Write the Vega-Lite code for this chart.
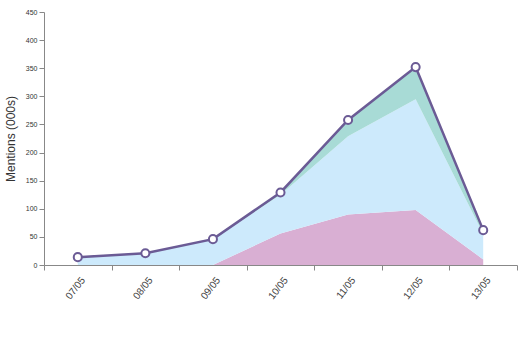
{
  "$schema": "https://vega.github.io/schema/vega-lite/v6.json",
  "width": 473,
  "height": 253,
  "autosize": "none",
  "padding": {"left": 44, "top": 12, "right": 2, "bottom": 91},
  "config": {
    "font": "Liberation Sans", "view": {"stroke": null},
    "axisY": {
      "titleFontSize": 12, "titleFontWeight": "normal", "titleColor": "#333", "titlePadding": 8,
      "values": [0, 50, 100, 150, 200, 250, 300, 350, 400, 450],
      "labelOverlap": false, "labelFontSize": 7, "labelColor": "#333", "grid": false,
      "domainColor": "#888", "tickColor": "#888", "tickSize": 5
    }
  },
  "data": {"values": [
    {"date": "07/05", "series": "Pink", "ord": 1, "value": 0},
    {"date": "08/05", "series": "Pink", "ord": 1, "value": 0},
    {"date": "09/05", "series": "Pink", "ord": 1, "value": 0},
    {"date": "10/05", "series": "Pink", "ord": 1, "value": 56},
    {"date": "11/05", "series": "Pink", "ord": 1, "value": 90},
    {"date": "12/05", "series": "Pink", "ord": 1, "value": 98},
    {"date": "13/05", "series": "Pink", "ord": 1, "value": 10},
    {"date": "07/05", "series": "Blue", "ord": 2, "value": 14},
    {"date": "08/05", "series": "Blue", "ord": 2, "value": 21},
    {"date": "09/05", "series": "Blue", "ord": 2, "value": 46},
    {"date": "10/05", "series": "Blue", "ord": 2, "value": 69},
    {"date": "11/05", "series": "Blue", "ord": 2, "value": 139},
    {"date": "12/05", "series": "Blue", "ord": 2, "value": 197},
    {"date": "13/05", "series": "Blue", "ord": 2, "value": 45},
    {"date": "07/05", "series": "Teal", "ord": 3, "value": 0},
    {"date": "08/05", "series": "Teal", "ord": 3, "value": 0},
    {"date": "09/05", "series": "Teal", "ord": 3, "value": 0},
    {"date": "10/05", "series": "Teal", "ord": 3, "value": 4},
    {"date": "11/05", "series": "Teal", "ord": 3, "value": 29},
    {"date": "12/05", "series": "Teal", "ord": 3, "value": 57},
    {"date": "13/05", "series": "Teal", "ord": 3, "value": 7}
  ]},
  "encoding": {
    "x": {
      "field": "date", "type": "ordinal", "bandPosition": 0.5,
      "scale": {"type": "band", "paddingInner": 0, "paddingOuter": 0},
      "axis": {
        "title": null, "labelAngle": -52, "labelFontSize": 10, "labelColor": "#444",
        "tickBand": "extent", "domainColor": "#888", "tickColor": "#888", "tickSize": 5,
        "labelPadding": 8, "labelOffset": 5
      }
    }
  },
  "layer": [
    {
      "mark": {"type": "area", "opacity": 1},
      "encoding": {
        "y": {
          "field": "value", "type": "quantitative", "stack": "zero",
          "scale": {"domain": [0, 450], "nice": false},
          "axis": {"title": "Mentions (000s)", "values": [0, 50, 100, 150, 200, 250, 300, 350, 400, 450]}
        },
        "color": {
          "field": "series", "type": "nominal", "legend": null,
          "scale": {"domain": ["Pink", "Blue", "Teal"], "range": ["#d9afd3", "#cdeafc", "#a8dbd6"]}
        },
        "order": {"field": "ord", "type": "quantitative"}
      }
    },
    {
      "mark": {"type": "line", "color": "#6b5b95", "strokeWidth": 2.5},
      "encoding": {"y": {"aggregate": "sum", "field": "value", "type": "quantitative",
        "axis": {"title": "Mentions (000s)", "values": [0, 50, 100, 150, 200, 250, 300, 350, 400, 450]}}}
    },
    {
      "mark": {"type": "point", "filled": true, "fill": "white", "stroke": "#6b5b95", "strokeWidth": 2, "size": 65, "opacity": 1},
      "encoding": {"y": {"aggregate": "sum", "field": "value", "type": "quantitative",
        "axis": {"title": "Mentions (000s)", "values": [0, 50, 100, 150, 200, 250, 300, 350, 400, 450]}}}
    }
  ]
}
